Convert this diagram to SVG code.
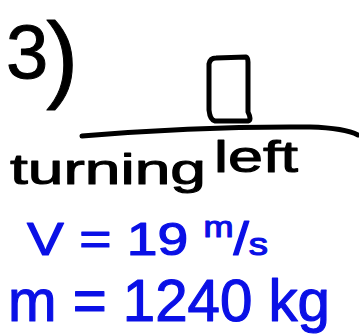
<svg xmlns="http://www.w3.org/2000/svg" width="359" height="336" viewBox="0 0 359 336">
<style>
.ink{fill:#000;stroke:#000;stroke-width:1;stroke-linejoin:round;font-family:"Liberation Sans","DejaVu Sans",sans-serif}
.blue{fill:#0a10e6;stroke:#0a10e6;stroke-width:1.2;stroke-linejoin:round;font-family:"Liberation Sans","DejaVu Sans",sans-serif}
.pen{fill:none;stroke:#000;stroke-width:5;stroke-linecap:round;stroke-linejoin:round}
</style>
<rect width="359" height="336" fill="#fff"/>
<g id="label-3">
<text class="ink" x="6" y="78" font-size="76">3<tspan font-size="96" dx="-2" dy="12">)</tspan></text>
</g>
<g id="box">
<path class="pen" d="M209 64 Q210 58 216 58 L246 57 Q248 58 248 62 L248 112 Q252 120 248 121 L215 121 Q210 120 209 110 Z"/>
</g>
<g id="ground">
<path class="pen" d="M82 136 Q200 126 310 127 Q345 128 358 135"/>
</g>
<g id="turning-left">
<text class="ink" x="10" y="184" font-size="42" textLength="196" lengthAdjust="spacingAndGlyphs">turning</text>
<text class="ink" x="214" y="172" font-size="44" textLength="84" lengthAdjust="spacingAndGlyphs">left</text>
</g>
<g id="velocity">
<text class="blue" x="27" y="255" font-size="46" textLength="241" lengthAdjust="spacingAndGlyphs">V = 19 <tspan font-size="30" dy="-18">m</tspan><tspan dy="18">/</tspan><tspan font-size="32">s</tspan></text>
</g>
<g id="mass">
<text class="blue" x="8" y="321" font-size="60" textLength="322" lengthAdjust="spacingAndGlyphs">m = 1240 kg</text>
</g>
</svg>
